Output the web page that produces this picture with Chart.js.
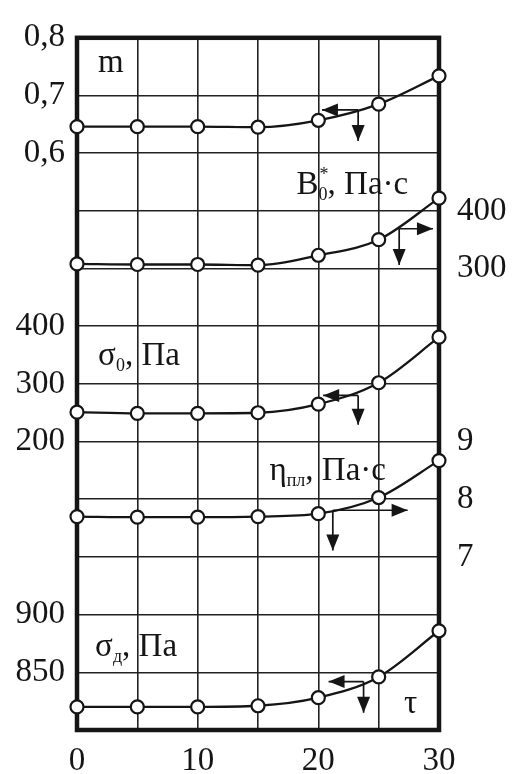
<!DOCTYPE html>
<html>
<head>
<meta charset="utf-8">
<script src="https://cdn.jsdelivr.net/npm/chart.js@4/dist/chart.umd.min.js"></script>
<style>
  body { margin: 0; background: #fff; }
  canvas { display: block; }
</style>
</head>
<body>
<canvas id="myChart" width="516" height="774"></canvas>
<script>
const ctx = document.getElementById("myChart");

// time, τ
const tau = [0, 5, 10, 15, 20, 25, 30];

// measured quantities
const mValues = [0.646, 0.646, 0.646, 0.645, 0.657, 0.685, 0.734];
const b0Values = [308, 307, 307, 306, 323, 350, 422];
const sigma0Values = [251, 249, 249, 250, 265, 302, 381];
const etaValues = [7.7, 7.69, 7.69, 7.7, 7.75, 8.03, 8.67];
const sigmaDValues = [820, 820, 820, 821, 828, 846, 886];

// tick values printed beside the frame
const mTicks = [0.8, 0.7, 0.6];
const b0Ticks = [400, 300];
const sigma0Ticks = [400, 300, 200];
const etaTicks = [9, 8, 7];
const sigmaDTicks = [900, 850];
const tauTicks = [0, 10, 20, 30];

// each quantity: value on the top grid line and value per grid row
const ROWS = 12;
const ranges = {
  yM: { top: 0.8, step: 0.1 },
  yB0: { top: 700, step: 100 },
  ySigma0: { top: 900, step: 100 },
  yEta: { top: 16, step: 1 },
  ySigmaD: { top: 1400, step: 50 },
};

const FONT = '"Liberation Serif", "Times New Roman", serif';
const INK = "#151515";

const fmt = (v) => String(v).replace(".", ",");
const rowOf = (id, v) => Math.round((ranges[id].top - v) / ranges[id].step);

const leftLabels = {};
mTicks.forEach((v) => (leftLabels[rowOf("yM", v)] = fmt(v)));
sigma0Ticks.forEach((v) => (leftLabels[rowOf("ySigma0", v)] = fmt(v)));
sigmaDTicks.forEach((v) => (leftLabels[rowOf("ySigmaD", v)] = fmt(v)));

const rightLabels = {};
b0Ticks.forEach((v) => (rightLabels[rowOf("yB0", v)] = fmt(v)));
etaTicks.forEach((v) => (rightLabels[rowOf("yEta", v)] = fmt(v)));

function seriesScale(id) {
  const r = ranges[id];
  return { display: false, min: r.top - ROWS * r.step, max: r.top };
}

function series(values, axis) {
  return {
    data: tau.map((t, i) => ({ x: t, y: values[i] })),
    yAxisID: axis,
    borderColor: INK,
    borderWidth: 2.3,
    pointRadius: 6.5,
    pointBorderWidth: 2.2,
    pointBackgroundColor: "#fff",
    pointBorderColor: INK,
    cubicInterpolationMode: "monotone",
    clip: false,
  };
}

// small arrows showing which side scale belongs to each curve
const arrows = [
  { axis: "yM", x: 23.3, y: 0.675, toX: 20.3, toY: 0.621 },
  { axis: "yB0", x: 26.7, y: 369, toX: 29.5, toY: 306 },
  { axis: "ySigma0", x: 23.3, y: 280, toX: 20.4, toY: 229 },
  { axis: "yEta", x: 21.2, y: 7.81, toX: 27.4, toY: 7.11 },
  { axis: "ySigmaD", x: 23.75, y: 842, toX: 20.85, toY: 815 },
];

// curve names, placed in (τ, grid row)
const captions = [
  { x: 1.75, row: 0.6, parts: [{ t: "m" }] },
  { x: 18.2, row: 2.7, parts: [{ t: "B" }, { t: "0", sub: true, sup: "*" }, { t: ", Па·с" }] },
  { x: 1.75, row: 5.68, parts: [{ t: "σ" }, { t: "0", sub: true }, { t: ", Па" }] },
  { x: 15.95, row: 7.66, parts: [{ t: "η" }, { t: "пл", sub: true }, { t: ", Па·с" }] },
  { x: 1.5, row: 10.72, parts: [{ t: "σ" }, { t: "д", sub: true }, { t: ", Па" }] },
  { x: 27.1, row: 11.7, parts: [{ t: "τ" }] },
];

function drawRich(c, parts, x, y) {
  let cx = x;
  c.textAlign = "left";
  c.textBaseline = "alphabetic";
  parts.forEach((p) => {
    c.font = (p.sub ? 18 : 33) + "px " + FONT;
    c.fillText(p.t, cx, y + (p.sub ? 6 : 0));
    const w = c.measureText(p.t).width;
    if (p.sup) {
      c.font = "18px " + FONT;
      c.fillText(p.sup, cx + 1, y - 14);
    }
    cx += w;
  });
}

function arrowHead(c, x, y, dx, dy) {
  const len = 16, half = 6.5;
  const px = -dy, py = dx;
  c.beginPath();
  c.moveTo(x, y);
  c.lineTo(x - dx * len + px * half, y - dy * len + py * half);
  c.lineTo(x - dx * len - px * half, y - dy * len - py * half);
  c.closePath();
  c.fill();
}

const framePlugin = {
  id: "frame",
  beforeDatasetsDraw(chart) {
    const { ctx: c, chartArea: a } = chart;
    c.save();
    c.strokeStyle = INK;
    c.lineWidth = 4.5;
    c.strokeRect(a.left, a.top, a.right - a.left, a.bottom - a.top);
    c.restore();
  },
  afterDatasetsDraw(chart) {
    const c = chart.ctx;
    const sx = chart.scales.x;
    const grid = chart.scales.y;
    c.save();
    c.fillStyle = INK;
    c.strokeStyle = INK;
    c.lineWidth = 1.7;
    arrows.forEach((a) => {
      const sy = chart.scales[a.axis];
      const x0 = sx.getPixelForValue(a.x);
      const y0 = sy.getPixelForValue(a.y);
      const x1 = sx.getPixelForValue(a.toX);
      const y1 = sy.getPixelForValue(a.toY);
      c.beginPath();
      c.moveTo(x0, y0);
      c.lineTo(x1, y0);
      c.moveTo(x0, y0);
      c.lineTo(x0, y1);
      c.stroke();
      arrowHead(c, x1, y0, Math.sign(x1 - x0), 0);
      arrowHead(c, x0, y1, 0, 1);
    });
    captions.forEach((t) => {
      drawRich(c, t.parts, sx.getPixelForValue(t.x), grid.getPixelForValue(t.row));
    });
    c.restore();
  },
};

const tickFont = { family: FONT, size: 33 };

new Chart(ctx, {
  type: "line",
  data: {
    datasets: [
      series(mValues, "yM"),
      series(b0Values, "yB0"),
      series(sigma0Values, "ySigma0"),
      series(etaValues, "yEta"),
      series(sigmaDValues, "ySigmaD"),
    ],
  },
  options: {
    responsive: false,
    animation: false,
    layout: { padding: { top: 27, left: 0, right: 0, bottom: 0 } },
    plugins: { legend: { display: false }, tooltip: { enabled: false } },
    scales: {
      x: {
        type: "linear",
        min: 0,
        max: 30,
        border: { display: false },
        grid: { color: "#222", lineWidth: 1.6, drawTicks: false },
        ticks: {
          stepSize: 5,
          autoSkip: false,
          maxRotation: 0,
          padding: 12,
          color: INK,
          font: tickFont,
          callback: (v) => (tauTicks.includes(v) ? String(v) : ""),
        },
        afterFit: (s) => { s.height = 44; },
      },
      y: {
        type: "linear",
        position: "left",
        min: 0,
        max: ROWS,
        reverse: true,
        border: { display: false },
        grid: { color: "#222", lineWidth: 1.6, drawTicks: false },
        ticks: {
          stepSize: 1,
          autoSkip: false,
          padding: 12,
          color: INK,
          font: tickFont,
          callback: (v) => leftLabels[v] ?? "",
        },
        afterFit: (s) => { s.width = 77; },
      },
      yR: {
        type: "linear",
        position: "right",
        min: 0,
        max: ROWS,
        reverse: true,
        border: { display: false },
        grid: { display: false, drawTicks: false },
        ticks: {
          stepSize: 1,
          autoSkip: false,
          padding: 18,
          color: INK,
          font: tickFont,
          callback: (v) => rightLabels[v] ?? "",
        },
        afterFit: (s) => { s.width = 77; },
      },
      yM: seriesScale("yM"),
      yB0: seriesScale("yB0"),
      ySigma0: seriesScale("ySigma0"),
      yEta: seriesScale("yEta"),
      ySigmaD: seriesScale("ySigmaD"),
    },
  },
  plugins: [framePlugin],
});
</script>
</body>
</html>
